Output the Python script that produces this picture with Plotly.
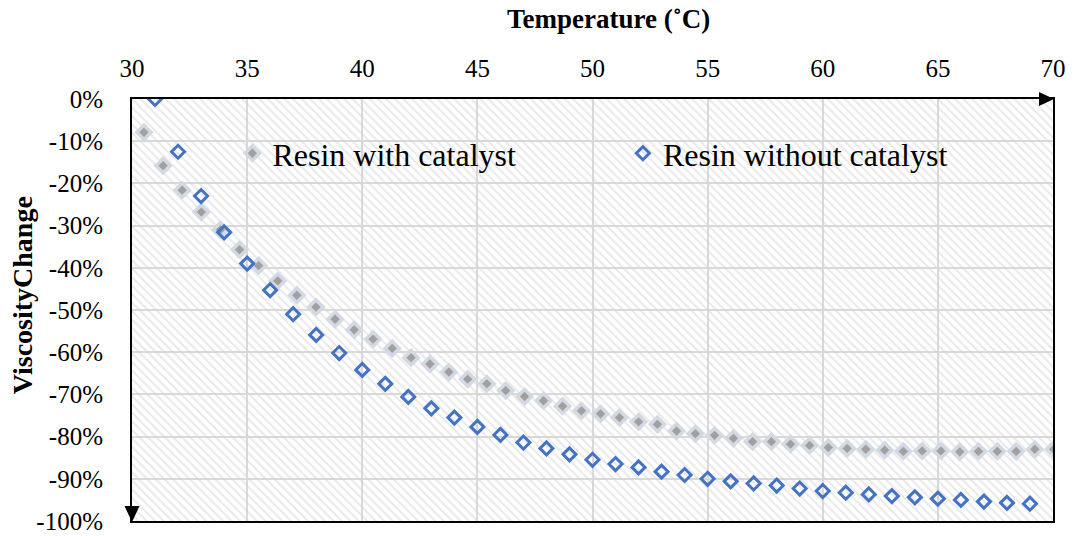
import plotly.graph_objects as go

# ---------------- data ----------------
with_cat_temp = [30.52, 31.35, 32.18, 33.01, 33.84, 34.67, 35.50, 36.33, 37.16, 37.99,
                 38.82, 39.65, 40.47, 41.30, 42.12, 42.94, 43.76, 44.58, 45.41, 46.23,
                 47.05, 47.87, 48.70, 49.52, 50.35, 51.17, 52.00, 52.82, 53.65, 54.47,
                 55.30, 56.12, 56.95, 57.77, 58.60, 59.43, 60.24, 61.06, 61.87, 62.69,
                 63.50, 64.32, 65.13, 65.95, 66.76, 67.58, 68.40, 69.21, 70.03]
with_cat_change = [-7.9, -15.8, -21.6, -26.8, -31.0, -35.7, -39.5, -43.1, -46.5, -49.3,
                   -52.2, -54.7, -56.9, -59.1, -61.3, -62.8, -64.7, -66.4, -67.5, -69.1,
                   -70.5, -71.5, -72.8, -73.9, -74.6, -75.5, -76.5, -77.1, -78.7, -79.3,
                   -79.7, -80.4, -81.2, -81.2, -81.8, -82.1, -82.6, -82.8, -83.0, -83.2,
                   -83.5, -83.4, -83.4, -83.6, -83.5, -83.5, -83.5, -83.0, -83.0]

without_cat_temp = [31, 32, 33, 34, 35, 36, 37, 38, 39, 40,
                    41, 42, 43, 44, 45, 46, 47, 48, 49, 50,
                    51, 52, 53, 54, 55, 56, 57, 58, 59, 60,
                    61, 62, 63, 64, 65, 66, 67, 68, 69]
without_cat_change = [0.0, -12.5, -23.0, -31.6, -39.0, -45.3, -51.0, -55.9, -60.2, -64.2,
                      -67.5, -70.6, -73.3, -75.5, -77.7, -79.6, -81.4, -82.8, -84.2, -85.5,
                      -86.5, -87.3, -88.3, -89.1, -90.0, -90.6, -91.1, -91.6, -92.3, -92.9,
                      -93.3, -93.7, -94.1, -94.4, -94.7, -95.0, -95.4, -95.7, -95.9]

x_ticks = [30, 35, 40, 45, 50, 55, 60, 65, 70]
y_ticks = [0, -10, -20, -30, -40, -50, -60, -70, -80, -90, -100]
y_tick_labels = ["0%", "-10%", "-20%", "-30%", "-40%", "-50%", "-60%", "-70%", "-80%", "-90%", "-100%"]

x_range = [30, 70]
y_range = [-100, 0]

FONT = "Liberation Serif"

fig = go.Figure()

# hatched plot-area background
fig.add_trace(go.Scatter(
    x=[x_range[0], x_range[1], x_range[1], x_range[0], x_range[0]],
    y=[y_range[1], y_range[1], y_range[0], y_range[0], y_range[1]],
    mode="none", fill="toself", fillcolor="rgba(0,0,0,0)",
    fillpattern=dict(shape="\\", fgcolor="#d4d4d4", bgcolor="rgba(0,0,0,0)",
                     size=6, solidity=0.35),
    showlegend=False, hoverinfo="skip"))

fig.add_trace(go.Scatter(
    x=with_cat_temp, y=with_cat_change, mode="markers", name="Resin with catalyst",
    marker=dict(symbol="diamond", size=11, color="#a0a0a0", opacity=1,
                line=dict(color="#d2d9e3", width=3.5)),
    legend="legend"))

fig.add_trace(go.Scatter(
    x=without_cat_temp, y=without_cat_change, mode="markers", name="Resin without catalyst",
    marker=dict(symbol="diamond-open", size=10, color="#4472c4", opacity=1,
                line=dict(color="#4472c4", width=3)),
    legend="legend2"))

# arrows at the axis ends (paper refs so they are not clipped)
fig.add_shape(type="path", xref="paper", yref="paper", xsizemode="pixel", ysizemode="pixel",
              xanchor=1, yanchor=1,
              path="M 1,0 L -14,7 L -14,-7 Z", fillcolor="black", line=dict(width=0))
fig.add_shape(type="path", xref="paper", yref="paper", xsizemode="pixel", ysizemode="pixel",
              xanchor=0, yanchor=0,
              path="M 0,-1 L -7.5,15 L 7.5,15 Z", fillcolor="black", line=dict(width=0))

fig.update_layout(
    width=1076, height=536,
    margin=dict(l=132, r=23, t=99, b=15),
    paper_bgcolor="white", plot_bgcolor="white",
    font=dict(family=FONT, color="black"),
    showlegend=True,
    legend=dict(x=0.109, y=0.871, xanchor="left", yanchor="middle",
                bgcolor="rgba(0,0,0,0)", font=dict(family=FONT, size=32, color="black")),
    legend2=dict(x=0.533, y=0.871, xanchor="left", yanchor="middle",
                 bgcolor="rgba(0,0,0,0)", font=dict(family=FONT, size=32, color="black")),
    xaxis=dict(side="top", range=x_range, tickvals=x_ticks, automargin=False,
               showgrid=True, gridcolor="#d9d9d9", gridwidth=2,
               showline=True, linecolor="black", linewidth=2, mirror=True,
               zeroline=False, ticks="", ticklabelstandoff=10, ticklabeloverflow="allow",
               tickfont=dict(family=FONT, size=25, color="black")),
    yaxis=dict(range=y_range, tickvals=y_ticks, ticktext=y_tick_labels, automargin=False,
               showgrid=True, gridcolor="#d9d9d9", gridwidth=2,
               showline=True, linecolor="black", linewidth=2, mirror=True,
               zeroline=False, ticks="", ticklabelstandoff=22, ticklabeloverflow="allow",
               tickfont=dict(family=FONT, size=25, color="black")),
    annotations=[
        dict(text="<b>Temperature (˚C)</b>", xref="paper", yref="paper",
             x=0.517, y=1.19, xanchor="center", yanchor="middle", showarrow=False,
             font=dict(family=FONT, size=27, color="black")),
        dict(text="<b>ViscosityChange</b>", xref="paper", yref="paper",
             x=-0.119, y=0.536, xanchor="center", yanchor="middle", showarrow=False,
             textangle=-90, font=dict(family=FONT, size=28, color="black")),
    ],
)

fig.write_html("out.html")
